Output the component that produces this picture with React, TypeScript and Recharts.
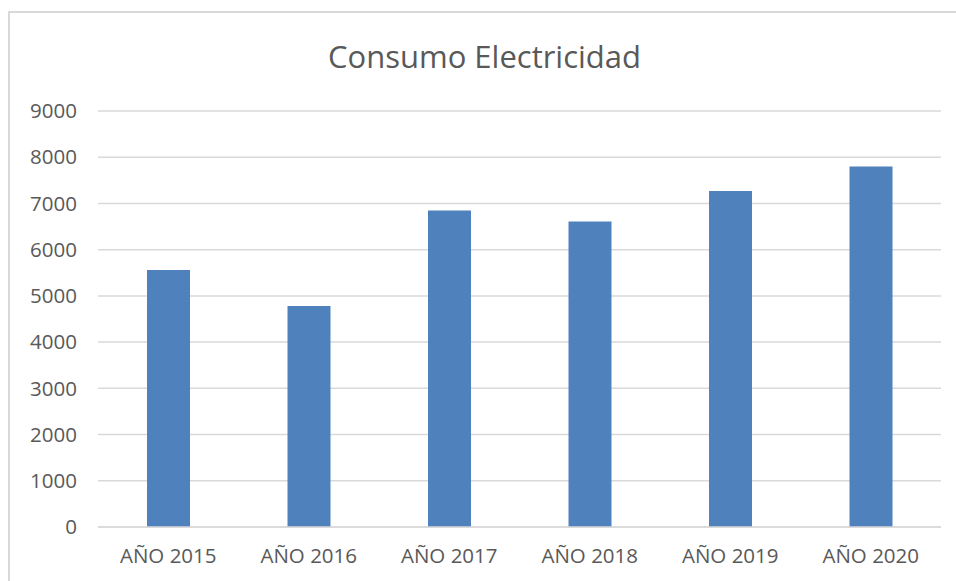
import { BarChart, Bar, XAxis, YAxis, CartesianGrid } from "recharts";

const years = ["AÑO 2015", "AÑO 2016", "AÑO 2017", "AÑO 2018", "AÑO 2019", "AÑO 2020"];
const consumo = [5560, 4780, 6850, 6610, 7270, 7800];
const yTicks = [0, 1000, 2000, 3000, 4000, 5000, 6000, 7000, 8000, 9000];

const chartData = years.map((year, i) => ({ year, value: consumo[i] }));

const FONT = "'Open Sans', sans-serif";
const TEXT = "#595959";

export default function App() {
  return (
    // fixed so the chart can run to the window edge without scrollbars
    <div style={{ position: "fixed", left: 0, top: 0, width: 956, height: 581, overflow: "hidden", background: "#fff" }}>
      {/* chart frame: only top and left edges are visible in the crop */}
      <div
        style={{
          position: "absolute",
          left: 8,
          top: 11,
          width: 970,
          height: 600,
          borderTop: "2px solid #d9d9d9",
          borderLeft: "2px solid #d9d9d9",
        }}
      />
      <div
        style={{
          position: "absolute",
          left: 8,
          width: 953,
          top: 41,
          textAlign: "center",
          fontFamily: FONT,
          fontSize: 31,
          lineHeight: 1,
          color: TEXT,
        }}
      >
        Consumo Electricidad
      </div>
      <BarChart
        width={956}
        height={581}
        data={chartData}
        margin={{ top: 111, right: 15, bottom: 24, left: 0 }}
        style={{ position: "absolute", left: 0, top: 0 }}
      >
        <CartesianGrid vertical={false} stroke="#d9d9d9" strokeWidth={1.5} />
        <XAxis
          dataKey="year"
          height={30}
          axisLine={{ stroke: "#d9d9d9", strokeWidth: 1.5 }}
          tickLine={false}
          tickMargin={15}
          tick={{ fill: TEXT, fontSize: 20.5, fontFamily: FONT }}
        />
        <YAxis
          width={98}
          domain={[0, 9000]}
          ticks={yTicks}
          interval={0}
          axisLine={false}
          tickLine={false}
          tickMargin={15}
          tick={{ fill: TEXT, fontSize: 20.5, fontFamily: FONT }}
        />
        <Bar dataKey="value" fill="#4f81bd" barSize={43} isAnimationActive={false} />
      </BarChart>
    </div>
  );
}
